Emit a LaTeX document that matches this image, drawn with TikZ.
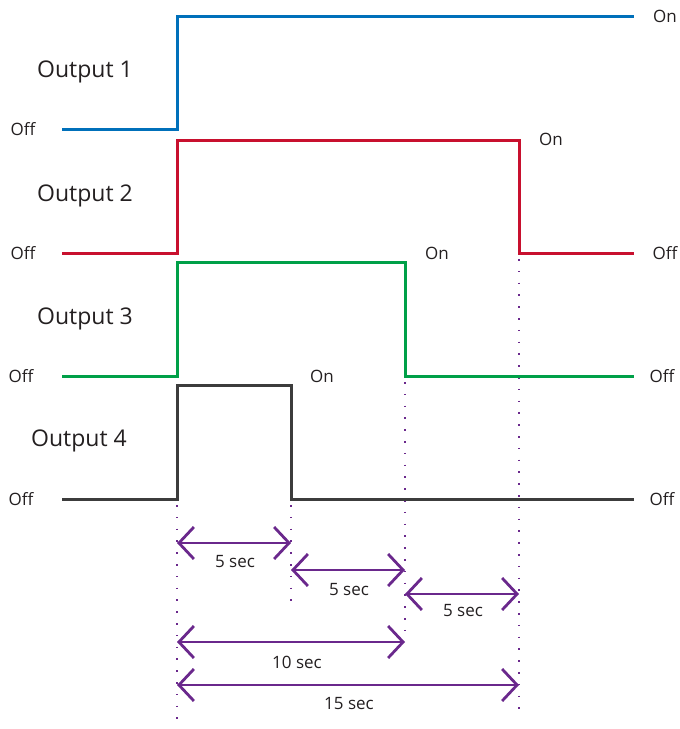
\documentclass[tikz,border=0pt]{standalone}
\usepackage{fontspec}
\setmainfont{Open Sans}
\usetikzlibrary{arrows.meta}
\definecolor{sigblue}{RGB}{0,112,186}
\definecolor{sigred}{RGB}{200,16,46}
\definecolor{siggreen}{RGB}{0,160,72}
\definecolor{siggrey}{RGB}{60,60,60}
\definecolor{dimpurple}{RGB}{106,40,140}
\definecolor{txt}{RGB}{35,31,32}
\tikzset{
  wave/.style={line width=3pt, line join=miter},
  title/.style={font=\fontsize{23}{26}\selectfont, text=txt, anchor=west, inner sep=0pt},
  state/.style={font=\fontsize{17}{20}\selectfont, text=txt, inner sep=0pt},
  guide/.style={dimpurple, line width=1.6pt, dash pattern=on 1.6pt off 10.2pt},
  barb/.tip={Straight Barb[length=15pt,width=32pt,line width=2.8pt]},
  span/.style={dimpurple, line width=2.6pt, barb-barb},
  spanlbl/.style={font=\fontsize{17}{20}\selectfont, text=txt, inner sep=0pt}
}
\begin{document}
\begin{tikzpicture}[x=1pt,y=-1pt]
\useasboundingbox (0,0) rectangle (680,729);

% dotted timing guides
\draw[guide] (177,505) -- (177,727);
\draw[guide] (291,505) -- (291,610);
\draw[guide] (405,382) -- (405,640);
\draw[guide] (519,259) -- (519,716);

% output waveforms
\draw[wave, sigblue]  (62,129) -- (177,129) -- (177,16) -- (634,16);
\draw[wave, sigred]   (62,253) -- (177,253) -- (177,140) -- (519,140) -- (519,253) -- (634,253);
\draw[wave, siggreen] (62,376) -- (177,376) -- (177,262) -- (405,262) -- (405,376) -- (634,376);
\draw[wave, siggrey]  (62,499) -- (177,499) -- (177,385) -- (291,385) -- (291,499) -- (634,499);

% output names
\node[title] (o1) at (37,72)  {Output 1};
\node[title] (o2) at (37,196) {Output 2};
\node[title] (o3) at (37,319) {Output 3};
\node[title] (o4) at (31,441) {Output 4};

% state labels
\node[state] (off1) at (23,129) {Off};
\node[state] (off2) at (23,253) {Off};
\node[state] (off3) at (21,376) {Off};
\node[state] (off4) at (21,499) {Off};
\node[state] (on1)  at (665,16)  {On};
\node[state] (on2)  at (551,139) {On};
\node[state] (on3)  at (437,253) {On};
\node[state] (on4)  at (322,376) {On};
\node[state] (roff2) at (665,253) {Off};
\node[state] (roff3) at (662,376) {Off};
\node[state] (roff4) at (662,499) {Off};

% interval markers
\coordinate (a0) at (177,543); \coordinate (a1) at (291,543);
\coordinate (b0) at (291,570); \coordinate (b1) at (405,570);
\coordinate (c0) at (405,594); \coordinate (c1) at (519,594);
\coordinate (d0) at (177,642); \coordinate (d1) at (405,642);
\coordinate (e0) at (177,685); \coordinate (e1) at (519,685);
\draw[span] (a0) -- (a1);
\draw[span] (b0) -- (b1);
\draw[span] (c0) -- (c1);
\draw[span] (d0) -- (d1);
\draw[span] (e0) -- (e1);
\node[spanlbl] (la) at (235,562) {5 sec};
\node[spanlbl] (lb) at (349,590) {5 sec};
\node[spanlbl] (lc) at (463,611) {5 sec};
\node[spanlbl] (ld) at (297,662) {10 sec};
\node[spanlbl] (le) at (349,704) {15 sec};
\end{tikzpicture}
\end{document}
